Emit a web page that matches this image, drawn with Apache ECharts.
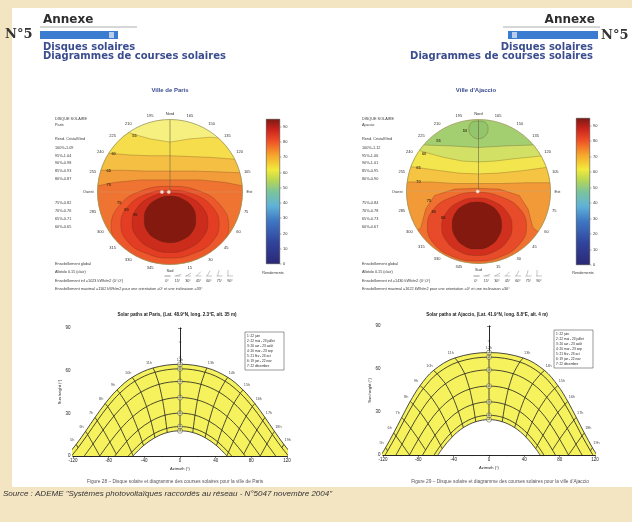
<!DOCTYPE html>
<html>
<head>
<meta charset="utf-8">
<script src="https://cdn.jsdelivr.net/npm/echarts@6/dist/echarts.min.js"></script>
<style>
  html, body { margin: 0; padding: 0; background: #f4e5c2; }
  #c { width: 632px; height: 522px; }
</style>
</head>
<body>
<div id="c"></div>
<script>
/* Annexe N°5 — disques solaires et courses solaires (Paris / Ajaccio) */

// ---------- courses solaires : [azimut, hauteur] pour 5h..19h (heure solaire), null = nuit ----------
const HOURS = [5, 6, 7, 8, 9, 10, 11, 12, 13, 14, 15, 16, 17, 18, 19];
const DAY_LABELS = ['1: 22 juin', '2: 22 mai - 23 juillet', '3: 20 avr - 23 août', '4: 20 mar - 23 sep',
  '5: 21 fév - 23 oct', '6: 19 jan - 22 nov', '7: 22 décembre'];

const parisPaths = [
  [[-116.4, 8.2], [-105.9, 17.4], [-95.3, 27.1], [-83.9, 36.9], [-70.6, 46.5], [-53.6, 55.3], [-30.3, 61.9], [0, 64.5], [30.3, 61.9], [53.6, 55.3], [70.6, 46.5], [83.9, 36.9], [95.3, 27.1], [105.9, 17.4], [116.4, 8.2]],
  [[-114.3, 5.8], [-103.6, 15.1], [-92.8, 24.8], [-81.1, 34.7], [-67.6, 44.1], [-50.6, 52.6], [-28.0, 58.9], [0, 61.3], [28.0, 58.9], [50.6, 52.6], [67.6, 44.1], [81.1, 34.7], [92.8, 24.8], [103.6, 15.1], [114.3, 5.8]],
  [null, [-97.5, 8.5], [-86.2, 18.3], [-74.2, 28.0], [-60.4, 37.1], [-43.8, 44.9], [-23.5, 50.4], [0, 52.4], [23.5, 50.4], [43.8, 44.9], [60.4, 37.1], [74.2, 28.0], [86.2, 18.3], [97.5, 8.5], null],
  [null, [-90, 0], [-78.6, 9.8], [-66.5, 19.2], [-53.0, 27.7], [-37.5, 34.7], [-19.6, 39.4], [0, 41.1], [19.6, 39.4], [37.5, 34.7], [53.0, 27.7], [66.5, 19.2], [78.6, 9.8], [90, 0], null],
  [null, null, [-71.5, 1.3], [-59.8, 10.3], [-46.9, 18.2], [-32.6, 24.5], [-16.8, 28.7], [0, 30.1], [16.8, 28.7], [32.6, 24.5], [46.9, 18.2], [59.8, 10.3], [71.5, 1.3], null, null],
  [null, null, null, [-54.3, 2.6], [-42.3, 10.0], [-29.1, 15.7], [-14.9, 19.4], [0, 20.7], [14.9, 19.4], [29.1, 15.7], [42.3, 10.0], [54.3, 2.6], null, null, null],
  [null, null, null, [-52.6, 0.1], [-40.9, 7.3], [-28.1, 12.9], [-14.3, 16.5], [0, 17.7], [14.3, 16.5], [28.1, 12.9], [40.9, 7.3], [52.6, 0.1], null, null, null]
];
const parisRise = [127.3, 121.7, 107.3, 90, 73.1, 58.0, 52.6];

const ajaccioPaths = [
  [[-117.1, 5.1], [-107.9, 15.4], [-98.8, 26.2], [-89.2, 37.4], [-78.0, 48.4], [-62.9, 59.0], [-38.7, 67.7], [0, 71.5], [38.7, 67.7], [62.9, 59.0], [78.0, 48.4], [89.2, 37.4], [98.8, 26.2], [107.9, 15.4], [117.1, 5.1]],
  [[-114.8, 2.9], [-105.3, 13.3], [-96.0, 24.3], [-86.0, 35.4], [-74.3, 46.4], [-58.7, 56.7], [-34.9, 64.9], [0, 68.3], [34.9, 64.9], [58.7, 56.7], [74.3, 46.4], [86.0, 35.4], [96.0, 24.3], [105.3, 13.3], [114.8, 2.9]],
  [null, [-98.5, 7.5], [-88.6, 18.6], [-77.9, 29.7], [-65.4, 40.3], [-49.3, 49.7], [-27.5, 56.7], [0, 59.4], [27.5, 56.7], [49.3, 49.7], [65.4, 40.3], [77.9, 29.7], [88.6, 18.6], [98.5, 7.5], null],
  [null, [-90, 0], [-79.9, 11.1], [-69.0, 21.9], [-56.3, 31.8], [-40.8, 40.1], [-21.9, 46.0], [0, 48.1], [21.9, 46.0], [40.8, 40.1], [56.3, 31.8], [69.0, 21.9], [79.9, 11.1], [90, 0], null],
  [null, null, [-71.8, 3.5], [-61.1, 13.8], [-48.9, 22.9], [-34.7, 30.4], [-18.1, 35.3], [0, 37.1], [18.1, 35.3], [34.7, 30.4], [48.9, 22.9], [61.1, 13.8], [71.8, 3.5], null, null],
  [null, null, null, [-54.8, 6.7], [-43.4, 15.1], [-30.3, 21.8], [-15.7, 26.2], [0, 27.7], [15.7, 26.2], [30.3, 21.8], [43.4, 15.1], [54.8, 6.7], null, null, null],
  [null, null, null, [-52.9, 4.4], [-41.7, 12.6], [-29.0, 19.1], [-15.0, 23.2], [0, 24.7], [15.0, 23.2], [29.0, 19.1], [41.7, 12.6], [52.9, 4.4], null, null, null]
];
const ajaccioRise = [122.2, 117.6, 105.3, 90, 75.1, 62.1, 57.8];

// ---------- disques solaires : isolignes de rendement (%) ----------
// points [x vers l'Est, y vers le Sud] en degrés d'inclinaison (bord du disque = 90°)
// les lignes ouvertes se referment hors du disque (masqué ensuite)
const parisLevels = [55, 60, 65, 70, 75, 80, 85, 90];
const parisContours = [
  [[-62, -78], [-46, -72], [-25, -66], [0, -62], [25, -66], [50, -68], [70, -66], [100, -30], [110, 30], [80, 85], [0, 115], [-80, 85], [-110, 30], [-100, -40]],
  [[-90, -50], [-74, -48], [-50, -46], [-25, -45], [0, -45], [25, -44], [50, -43], [77, -41], [95, -38], [110, 20], [90, 75], [0, 115], [-90, 75], [-110, 20]],
  [[-100, -26], [-86, -27], [-60, -27], [-30, -26], [0, -26], [30, -26], [60, -25], [86, -24], [100, -22], [110, 30], [80, 85], [0, 115], [-80, 85], [-110, 30]],
  [[-100, -5], [-88, -8], [-68, -12], [-37, -15], [0, -15], [37, -15], [68, -12], [88, -8], [100, -5], [105, 40], [70, 85], [0, 110], [-70, 85], [-105, 40]],
  [[73, 42], [63, 67], [37, 85], [0, 92], [-37, 85], [-63, 67], [-73, 42], [-63, 17], [-37, -1], [0, -7], [37, -1], [63, 17]],
  [[61, 40], [53, 61], [30, 76], [0, 82], [-30, 76], [-53, 61], [-61, 40], [-53, 19], [-30, 3], [0, -2], [30, 3], [53, 19]],
  [[47, 38], [41, 56], [23, 70], [0, 75], [-23, 70], [-41, 56], [-47, 38], [-41, 20], [-23, 6], [0, 1], [23, 6], [41, 20]],
  [[32, 34], [28, 49], [16, 59], [0, 63], [-16, 59], [-28, 49], [-32, 34], [-28, 19], [-16, 9], [0, 5], [16, 9], [28, 19]]
];
const parisLabelPos = [[-44, -70], [-70, -47], [-76, -26], [-76, -9], [-63, 14], [-54, 22], [-43, 28]];
const parisDots = [[10, 270], [1.5, 270]];

const ajaccioLevels = [55, 60, 65, 70, 75, 80, 85, 90];
const ajaccioContours = [
  [[-80, -60], [-66, -58], [-35, -57], [0, -55], [35, -57], [66, -58], [80, -60], [100, -30], [110, 30], [80, 85], [0, 115], [-80, 85], [-110, 30], [-100, -30]],
  [[-85, -55], [-70, -50], [-45, -43], [-20, -38], [0, -37], [20, -38], [45, -41], [75, -44], [90, -45], [110, 20], [90, 75], [0, 115], [-90, 75], [-110, 20]],
  [[-100, -30], [-84, -31], [-55, -27], [-25, -23], [0, -22], [25, -23], [55, -26], [84, -30], [100, -28], [110, 30], [80, 85], [0, 115], [-80, 85], [-110, 30]],
  [[-100, -8], [-89, -12], [-60, -12], [-30, -10], [0, -10], [30, -10], [60, -11], [89, -11], [100, -6], [105, 40], [70, 85], [0, 110], [-70, 85], [-105, 40]],
  [[-90, 60], [-72, 45], [-66, 22], [-55, 5], [-30, -3], [-2, -4], [26, -3], [51, 5], [62, 22], [68, 45], [86, 60], [60, 95], [0, 110], [-62, 95]],
  [[60, 44], [52, 65], [29, 81], [-2, 87], [-33, 81], [-56, 65], [-64, 44], [-56, 22], [-33, 7], [-2, 1], [29, 7], [52, 22]],
  [[42, 44], [36, 62], [20, 75], [-2, 80], [-24, 75], [-40, 62], [-46, 44], [-40, 26], [-24, 13], [-2, 8], [20, 13], [36, 26]],
  [[29, 42], [25, 57], [14, 68], [-2, 72], [-18, 68], [-29, 57], [-33, 42], [-29, 27], [-18, 17], [-2, 13], [14, 17], [25, 27]]
];
// petite boucle au nord (rendement < 50 %)
const ajaccioLoopLevel = 50;
const ajaccioLoop = [[12, -78], [9, -70], [0, -66], [-9, -70], [-12, -78], [-9, -86], [0, -88], [9, -86]];
const ajaccioLabelPos = [[-50, -63], [-68, -47], [-75, -29], [-75, -12], [-62, 12], [-56, 26], [-44, 33]];
const ajaccioDots = [[1, 270]];

// couleurs des plages de rendement (seuils = niveaux des isolignes)
const parisBandColors = ['#f5f080', '#f5dd4c', '#f5bf44', '#f39c3a', '#f07431', '#ec572b', '#e33d24', '#cc2c1c', '#83190f'];
const ajaccioBandColors = ['#93c66c', '#a3cf70', '#d2e166', '#f2e54e', '#f5c443', '#f39a38', '#ef7030', '#e84b29', '#d2301e', '#83190f'];

// barre de couleurs
const CBAR_MAX = 95;
const CBAR_COLORS = [[0, '#2b2876'], [0.15, '#31449c'], [0.3, '#3f78c4'], [0.4, '#5fb2d8'], [0.5, '#7cc49a'],
  [0.58, '#b9d753'], [0.65, '#f2ea3c'], [0.75, '#f6a52c'], [0.85, '#ee4e26'], [0.93, '#c8231c'], [1, '#7a1a14']];

const AZ_NAMES = { 0: 'Sud', 90: 'Est', 180: 'Nord', 270: 'Ouest' };
const TILTS = [0, 15, 30, 45, 60, 75, 90];

// ---------- helpers ----------
const toPolar = (p) => {
  let a = Math.atan2(p[0], p[1]) * 180 / Math.PI;
  if (a < 0) a += 360;
  return [Math.hypot(p[0], p[1]), a];
};

const series = [];
const visualMaps = [];

function piecesOf(levels, colors) {
  const out = [{ lt: levels[0], color: colors[0] }];
  levels.forEach((l, i) => out.push(i < levels.length - 1 ? { gte: l, lt: levels[i + 1], color: colors[i + 1] } : { gte: l, color: colors[i + 1] }));
  return out;
}

function addDisk(pi, levels, contours, labelPos, dots, colors, loop, loopLevel) {
  const allLevels = loop ? [loopLevel].concat(levels) : levels;
  const data = [[levels[0] - 2, -1]].concat(levels.map((l, i) => [l, i]));
  if (loop) data.push([loopLevel - 1, 99]);
  const idx = series.length;
  series.push({
    type: 'custom', coordinateSystem: 'polar', polarIndex: pi, z: 2, silent: true, data,
    renderItem(params, api) {
      const cs = params.coordSys, i = api.value(1), fill = api.visual('color');
      if (i < 0) return { type: 'circle', shape: { cx: cs.cx, cy: cs.cy, r: cs.r }, style: { fill } };
      const pts = i === 99 ? loop : contours[i];
      const open = pts.some((p) => Math.hypot(p[0], p[1]) > 95);
      return {
        type: 'polygon',
        shape: { points: pts.map((p) => api.coord(toPolar(p)).slice(0, 2)), smooth: open ? 0 : 0.45 },
        style: { fill, stroke: 'rgba(80,40,15,0.5)', lineWidth: 0.5 }
      };
    }
  });
  visualMaps.push({ type: 'piecewise', show: false, dimension: 0, seriesIndex: idx, pieces: piecesOf(allLevels, colors) });

  // masque blanc hors du disque
  series.push({
    type: 'custom', coordinateSystem: 'polar', polarIndex: pi, z: 3, silent: true, data: [[0, 0]],
    renderItem(params) {
      const cs = params.coordSys;
      return { type: 'ring', shape: { cx: cs.cx, cy: cs.cy, r0: cs.r + 0.2, r: cs.r + 32 }, style: { fill: '#ffffff' } };
    }
  });
  // axe N et axe O-E
  series.push({ type: 'line', coordinateSystem: 'polar', polarIndex: pi, z: 4, silent: true, symbol: 'none',
    data: [[90, 180], [0, 180]], lineStyle: { color: '#6b6440', width: 0.6 } });
  series.push({ type: 'line', coordinateSystem: 'polar', polarIndex: pi, z: 4, silent: true, symbol: 'none',
    data: [[90, 270], [0, 270], [0, 90], [90, 90]], lineStyle: { color: '#b8a890', width: 0.4, opacity: 0.7 } });
  // étiquettes des isolignes
  const labs = labelPos.map((p, i) => ({ value: toPolar(p), name: String(levels[i]) }));
  if (loop) labs.push({ value: toPolar([-17, -76]), name: String(loopLevel) });
  series.push({
    type: 'scatter', coordinateSystem: 'polar', polarIndex: pi, z: 5, silent: true, symbolSize: 0.1,
    itemStyle: { color: 'transparent' }, data: labs,
    label: { show: true, position: 'inside', formatter: '{b}', fontSize: 4, fontWeight: 'bold', color: '#2a1a0a' }
  });
  series.push({
    type: 'scatter', coordinateSystem: 'polar', polarIndex: pi, z: 5, silent: true, symbolSize: 3.4,
    itemStyle: { color: '#ffffff', borderColor: '#d8c8b0', borderWidth: 0.4 }, data: dots
  });
}

function curvePts(c, rise) {
  const pts = c.filter(Boolean);
  return pts[0][1] > 0.5 ? [[-rise, 0]].concat(pts, [[rise, 0]]) : pts;
}

function addPaths(paths, rise, xi, yi) {
  const base = { type: 'line', xAxisIndex: xi, yAxisIndex: yi, symbol: 'none', smooth: 0.35, silent: true, z: 2,
    lineStyle: { color: '#1e1e1e', width: 0.8 } };
  // jaune sous la courbe d'été, blanc sous la courbe d'hiver
  series.push(Object.assign({}, base, { data: curvePts(paths[0], rise[0]), areaStyle: { color: '#f6f25e', opacity: 1 } }));
  series.push(Object.assign({}, base, { data: curvePts(paths[6], rise[6]), areaStyle: { color: '#ffffff', opacity: 1 } }));
  for (let k = 1; k < 6; k++) series.push(Object.assign({}, base, { z: 3, data: curvePts(paths[k], rise[k]) }));
  // lignes horaires
  HOURS.forEach((h, i) => {
    const pts = paths.map((c) => c[i]).filter(Boolean);
    if (pts.length > 1) series.push(Object.assign({}, base, { z: 3, smooth: 0.2, data: pts }));
  });
  // repères de midi
  series.push({
    type: 'scatter', xAxisIndex: xi, yAxisIndex: yi, z: 4, silent: true, symbolSize: 5,
    itemStyle: { color: 'rgba(255,255,210,0.7)', borderColor: '#222', borderWidth: 0.5 },
    data: paths.map((c, k) => ({ value: c[7], name: String(k + 1) })),
    label: { show: true, position: 'inside', formatter: '{b}', fontSize: 3, color: '#111' }
  });
  // heures
  series.push({
    type: 'scatter', xAxisIndex: xi, yAxisIndex: yi, z: 4, silent: true, symbolSize: 0.1,
    itemStyle: { color: 'transparent' },
    data: HOURS.map((h, i) => ({ value: paths[0][i], name: h + 'h',
      label: { offset: [h < 12 ? -4 : h > 12 ? 4 : 0, 0] } })),
    label: { show: true, position: 'top', distance: 2.5, formatter: '{b}', fontSize: 3.8, color: '#222' }
  });
}

function angleAxis(pi) {
  return {
    polarIndex: pi, type: 'value', min: 0, max: 360, interval: 15, startAngle: 270, clockwise: false, z: 10,
    axisLine: { lineStyle: { color: '#9a9556', width: 0.8 } },
    axisTick: { show: false }, splitLine: { show: false },
    axisLabel: { fontSize: 4, margin: 4, color: '#333', formatter: (v) => (v === 360 ? '' : (AZ_NAMES[v] || String(v))) }
  };
}

function pathAxes(gi) {
  const line = { lineStyle: { color: '#111', width: 0.7 } };
  const tick = { inside: true, length: 2, lineStyle: { color: '#111', width: 0.5 } };
  const minor = { show: true, splitNumber: 2, length: 1.2, lineStyle: { color: '#111', width: 0.4 } };
  const lab = { fontSize: 4.5, color: '#222', margin: 2.5 };
  const x = [
    { gridIndex: gi, type: 'value', min: -120, max: 120, interval: 40, axisLine: line, axisTick: tick, minorTick: minor,
      axisLabel: lab, splitLine: { show: false }, name: 'Azimuth (°)', nameLocation: 'middle', nameGap: 11,
      nameTextStyle: { fontSize: 4, color: '#222' } },
    { gridIndex: gi, type: 'value', position: 'top', min: -120, max: 120, interval: 40, axisLine: line, axisTick: tick,
      minorTick: minor, axisLabel: { show: false }, splitLine: { show: false } }
  ];
  const y = [
    { gridIndex: gi, type: 'value', min: 0, max: 90, interval: 30, axisLine: line, axisTick: tick,
      minorTick: { show: true, splitNumber: 3, length: 1.2, lineStyle: { color: '#111', width: 0.4 } },
      axisLabel: lab, splitLine: { show: false }, name: 'Sun height (°)', nameLocation: 'middle', nameGap: 11,
      nameRotate: 90, nameTextStyle: { fontSize: 4, color: '#222' } },
    { gridIndex: gi, type: 'value', position: 'right', min: 0, max: 90, interval: 30, axisLine: line, axisTick: tick,
      minorTick: { show: true, splitNumber: 3, length: 1.2, lineStyle: { color: '#111', width: 0.4 } },
      axisLabel: { show: false }, splitLine: { show: false } }
  ];
  return { x, y };
}

function cbarAxes(gi) {
  return {
    x: { gridIndex: gi, type: 'category', data: [''], show: false },
    y: { gridIndex: gi, type: 'value', position: 'right', min: 0, max: CBAR_MAX, interval: 10,
      axisLine: { show: false }, axisTick: { show: true, length: 1.5, lineStyle: { color: '#444', width: 0.4 } },
      splitLine: { show: false }, axisLabel: { fontSize: 4, margin: 3, color: '#333', showMaxLabel: false } }
  };
}

// ---------- construction ----------
const cbP = cbarAxes(0), cbA = cbarAxes(1), paP = pathAxes(2), paA = pathAxes(3);
const xAxis = [cbP.x, cbA.x, paP.x[0], paP.x[1], paA.x[0], paA.x[1]];
const yAxis = [cbP.y, cbA.y, paP.y[0], paP.y[1], paA.y[0], paA.y[1]];

addDisk(0, parisLevels, parisContours, parisLabelPos, parisDots, parisBandColors);
addDisk(1, ajaccioLevels, ajaccioContours, ajaccioLabelPos, ajaccioDots, ajaccioBandColors, ajaccioLoop, ajaccioLoopLevel);

[0, 1].forEach((gi) => series.push({
  type: 'bar', xAxisIndex: gi, yAxisIndex: gi, data: [CBAR_MAX], barWidth: '100%', z: 6, silent: true,
  itemStyle: { color: { type: 'linear', x: 0, y: 1, x2: 0, y2: 0,
    colorStops: CBAR_COLORS.map((s) => ({ offset: s[0], color: s[1] })) }, borderColor: '#333', borderWidth: 0.5 }
}));

addPaths(parisPaths, parisRise, 2, 2);
addPaths(ajaccioPaths, ajaccioRise, 4, 4);

// ---------- textes de la page ----------
const T = (x, y, text, st) => ({
  type: 'text', x, y, z: 100, silent: true,
  style: Object.assign({ text, fill: '#3a3a3a', fontSize: 3.8, fontFamily: 'Liberation Sans',
    align: 'left', textAlign: 'left', verticalAlign: 'middle', textVerticalAlign: 'middle' }, st || {})
});
const R = (x, y, w, h, st, z) => ({ type: 'rect', z: z || 1, silent: true, shape: { x, y, width: w, height: h }, style: st });
const L = (x1, y1, x2, y2, st) => ({ type: 'line', z: 100, silent: true, shape: { x1, y1, x2, y2 }, style: st });
const right = { align: 'right', textAlign: 'right' };
const center = { align: 'center', textAlign: 'center' };
const titleSt = { fontSize: 10, fontWeight: 'bold', fill: '#3b4d8f', fontFamily: 'DejaVu Sans' };
const annexSt = { fontSize: 12, fontWeight: 'bold', fill: '#2e2e2e', fontFamily: 'DejaVu Sans' };
const numSt = { fontSize: 13, fontWeight: 'bold', fill: '#333', fontFamily: 'DejaVu Serif' };

const g = [
  R(12, 8, 620, 479, { fill: '#ffffff' }, -10),
  // en-tête gauche
  T(43, 20, 'Annexe', annexSt),
  L(40, 27, 137, 27, { stroke: '#9a9a9a', lineWidth: 0.8 }),
  R(40, 31, 78, 8, { fill: '#3b7bd0' }, 50), R(109, 32, 5, 6, { fill: '#b9cdea' }, 51),
  T(5, 35, 'N°5', numSt),
  T(43, 47, 'Disques solaires', titleSt),
  T(43, 56, 'Diagrammes de courses solaires', titleSt),
  T(170, 90, 'Ville de Paris', Object.assign({ fontSize: 6, fontWeight: 'bold', fill: '#3b4d8f' }, center)),
  // en-tête droit
  T(595, 20, 'Annexe', Object.assign({}, annexSt, right)),
  L(503, 27, 600, 27, { stroke: '#9a9a9a', lineWidth: 0.8 }),
  R(508, 31, 90, 8, { fill: '#3b7bd0' }, 50), R(512, 32, 5, 6, { fill: '#b9cdea' }, 51),
  T(601, 36, 'N°5', numSt),
  T(593, 47, 'Disques solaires', Object.assign({}, titleSt, right)),
  T(593, 56, 'Diagrammes de courses solaires', Object.assign({}, titleSt, right)),
  T(476, 90, "Ville d'Ajaccio", Object.assign({ fontSize: 6, fontWeight: 'bold', fill: '#3b4d8f' }, center))
];

function diskTexts(x0, ville, ratios, bottom, cbx, iconX) {
  g.push(T(x0, 119, 'DISQUE SOLAIRE'), T(x0, 125, ville), T(x0, 139, 'Rend. Cristal/Gnd'));
  const ys = [148, 156, 163, 171, 179, 203, 211, 219, 227];
  ratios.forEach((r, i) => g.push(T(x0, ys[i], r)));
  bottom.forEach((s, i) => g.push(T(x0, 264 + i * 8.3, s)));
  g.push(T(cbx, 273, 'Rendements', center));
  TILTS.forEach((t, i) => {
    const x = iconX + i * 10.5, a = t * Math.PI / 180;
    g.push(L(x - 3, 276, x + 3, 276, { stroke: '#888', lineWidth: 0.5 }));
    g.push(L(x - 2, 276, x - 2 + 6 * Math.cos(a), 276 - 6 * Math.sin(a), { stroke: '#888', lineWidth: 0.5 }));
    g.push(T(x, 281, t + '°', center));
  });
}
diskTexts(55, 'Paris',
  ['100%-1.09', '95%-1.04', '90%-0.98', '85%-0.93', '80%-0.87', '75%-0.82', '70%-0.76', '65%-0.71', '60%-0.65'],
  ['Ensoleillement global', 'Albédo 0.15 (clair)', 'Ensoleillement inf =1023 kWh/m2 (0°,0°)',
    'Ensoleillement maximal =1162 kWh/m2 pour une orientation =0° et une inclinaison =33°'], 273, 167);
diskTexts(362, 'Ajaccio',
  ['100%-1.12', '95%-1.06', '90%-1.01', '85%-0.95', '80%-0.90', '75%-0.84', '70%-0.78', '65%-0.73', '60%-0.67'],
  ['Ensoleillement global', 'Albédo 0.15 (clair)', 'Ensoleillement inf =1430 kWh/m2 (0°,0°)',
    'Ensoleillement maximal =1622 kWh/m2 pour une orientation =0° et une inclinaison =30°'], 583, 476);

function pathTexts(cx, title, bx, by) {
  g.push(T(cx, 315, title, Object.assign({ fontSize: 4.6, fontWeight: 'bold', fill: '#222' }, center)));
  g.push(R(bx, by, 39, 38, { fill: '#ffffff', stroke: '#333', lineWidth: 0.5 }, 60));
  DAY_LABELS.forEach((s, i) => g.push(T(bx + 2, by + 4 + i * 5, s, { fontSize: 3.2, fill: '#222' })));
}
pathTexts(177, 'Solar paths at Paris, (Lat. 48.9°N, long. 2.3°E, alt. 35 m)', 245, 332);
pathTexts(487, 'Solar paths at Ajaccio, (Lat. 41.9°N, long. 8.8°E, alt. 4 m)', 554, 330);

g.push(
  T(175, 482, 'Figure 28 – Disque solaire et diagramme des courses solaires pour la ville de Paris',
    Object.assign({ fontSize: 4.8, fill: '#555' }, center)),
  T(500, 482, "Figure 29 – Disque solaire et diagramme des courses solaires pour la ville d'Ajaccio",
    Object.assign({ fontSize: 4.8, fill: '#555' }, center)),
  T(3, 494, 'Source : ADEME "Systèmes photovoltaïques raccordés au réseau - N°5047 novembre 2004"',
    { fontSize: 8, fontStyle: 'italic', fill: '#333' })
);

const chart = echarts.init(document.getElementById('c'), null, { renderer: 'canvas' });
chart.setOption({
  backgroundColor: '#f4e5c2',
  animation: false,
  textStyle: { fontFamily: 'Liberation Sans' },
  polar: [
    { center: [170, 192], radius: 72.5 },
    { center: [478.5, 191.5], radius: 72 }
  ],
  angleAxis: [angleAxis(0), angleAxis(1)],
  radiusAxis: [
    { polarIndex: 0, type: 'value', min: 0, max: 90, show: false },
    { polarIndex: 1, type: 'value', min: 0, max: 90, show: false }
  ],
  grid: [
    { left: 266, top: 119, width: 14, height: 145 },
    { left: 576, top: 118, width: 14, height: 147 },
    { left: 73, top: 328, width: 214, height: 128 },
    { left: 383, top: 326, width: 212, height: 129 }
  ],
  xAxis,
  yAxis,
  visualMap: visualMaps,
  graphic: { elements: g },
  series
});
</script>
</body>
</html>
